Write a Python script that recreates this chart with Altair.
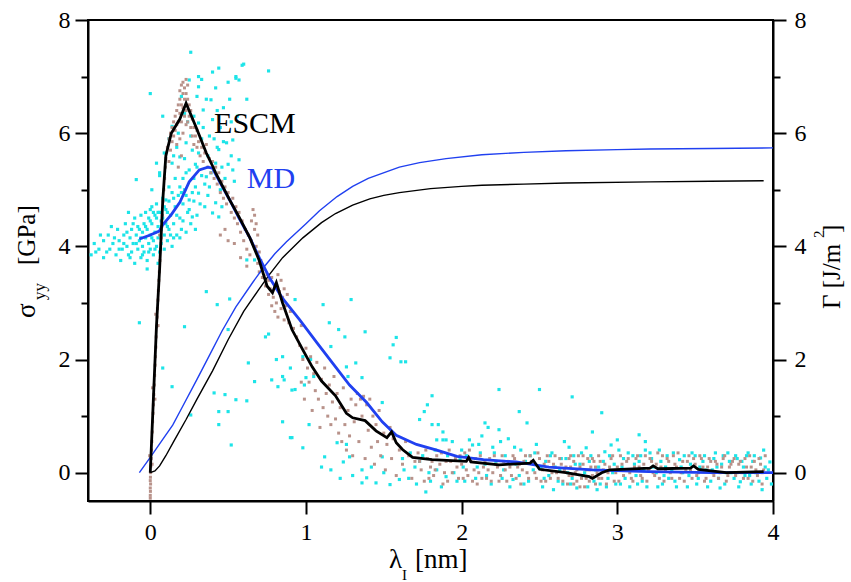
import altair as alt
import pandas as pd

# ---- smoothed stress curves sigma_yy(lambda_I) [GPa] ----
escm_lam = [0.0, 0.02, 0.04, 0.06, 0.08, 0.1, 0.135, 0.19, 0.23, 0.295, 0.36, 0.40, 0.42, 0.51,
            0.57, 0.64, 0.70, 0.75, 0.785, 0.81, 0.85, 0.91, 0.98, 1.04, 1.1, 1.19, 1.26, 1.3,
            1.38, 1.45, 1.52, 1.55, 1.58, 1.62, 1.685, 1.81, 2.03, 2.045, 2.06, 2.24, 2.44, 2.46,
            2.5, 2.67, 2.82, 2.84, 2.9, 2.95, 3.21, 3.23, 3.26, 3.47, 3.49, 3.52, 3.7, 3.94]
escm_sig = [0.0, 1.3, 2.6, 3.6, 4.8, 5.6, 6.0, 6.25, 6.53, 6.1, 5.65, 5.42, 5.3, 4.82,
            4.52, 4.15, 3.75, 3.3, 3.18, 3.36, 3.0, 2.53, 2.17, 1.87, 1.62, 1.36, 1.05, 0.97,
            0.92, 0.74, 0.62, 0.72, 0.53, 0.41, 0.27, 0.23, 0.2, 0.27, 0.19, 0.14, 0.17, 0.22,
            0.06, 0.0, -0.07, -0.1, 0.0, 0.05, 0.08, 0.12, 0.07, 0.08, 0.12, 0.06, 0.0, 0.02]

md_lam = [-0.07, 0.0, 0.058, 0.08, 0.135, 0.19, 0.25, 0.315, 0.37, 0.40, 0.45, 0.51, 0.57,
          0.64, 0.70, 0.765, 0.85, 0.96, 1.07, 1.17, 1.28, 1.39, 1.49, 1.58, 1.71, 1.84, 1.97,
          2.14, 2.35, 2.56, 2.84, 3.2, 3.6, 4.0]
md_sig = [4.13, 4.2, 4.27, 4.38, 4.56, 4.78, 5.14, 5.35, 5.4, 5.38, 5.12, 4.82, 4.5,
          4.15, 3.8, 3.45, 3.08, 2.7, 2.3, 1.94, 1.55, 1.24, 0.9, 0.66, 0.5, 0.4, 0.29,
          0.23, 0.19, 0.1, 0.05, 0.02, 0.0, 0.0]

# ---- work of separation Gamma(lambda_I) [J/m^2] ----
gam_md_lam = [-0.07, 0.0, 0.07, 0.144, 0.2, 0.3, 0.37, 0.46, 0.55, 0.66, 0.72, 0.8, 0.875,
              1.0, 1.087, 1.2, 1.3, 1.4, 1.52, 1.6, 1.73, 1.9, 2.13, 2.4, 2.67, 3.0, 3.21,
              3.6, 4.0]
gam_md = [0.0, 0.27, 0.55, 0.84, 1.13, 1.65, 2.02, 2.5, 2.93, 3.37, 3.6, 3.87, 4.08,
          4.4, 4.63, 4.88, 5.06, 5.2, 5.32, 5.4, 5.48, 5.55, 5.62, 5.66, 5.69, 5.71, 5.72,
          5.73, 5.74]

gam_escm_lam = [0.0, 0.03, 0.06, 0.1, 0.15, 0.23, 0.3, 0.4, 0.5, 0.6, 0.7, 0.765, 0.85,
                0.98, 1.1, 1.19, 1.3, 1.41, 1.5, 1.6, 1.8, 2.0, 2.13, 2.4, 2.67, 3.21, 3.6,
                3.94]
gam_escm = [0.0, 0.03, 0.12, 0.3, 0.55, 0.94, 1.3, 1.8, 2.35, 2.85, 3.25, 3.5, 3.8,
            4.15, 4.42, 4.58, 4.73, 4.84, 4.9, 4.95, 5.02, 5.06, 5.08, 5.1, 5.12, 5.14, 5.15,
            5.16]

# ---- raw MD samples (lambda_I, sigma_yy) ----
md_cloud_low = [
    (-0.38, 3.85), (-0.36, 4.05), (-0.33, 3.95), (-0.3, 4.1), (-0.3, 3.8), (-0.27, 4.2),
    (-0.26, 3.95), (-0.24, 4.05), (-0.22, 3.85), (-0.21, 4.3), (-0.2, 4.1), (-0.19, 3.75),
    (-0.18, 3.95), (-0.17, 4.2), (-0.16, 4.4), (-0.15, 4.0), (-0.14, 3.85), (-0.13, 4.15),
    (-0.12, 4.3), (-0.12, 3.9), (-0.11, 4.05), (-0.1, 4.5), (-0.1, 3.7), (-0.09, 4.2),
    (-0.08, 3.95), (-0.08, 4.35), (-0.07, 4.1), (-0.06, 3.8), (-0.06, 4.55), (-0.05, 4.25),
    (-0.05, 4.0), (-0.04, 4.4), (-0.04, 3.9), (-0.03, 4.15), (-0.03, 4.6), (-0.02, 3.75),
    (-0.02, 4.3), (-0.01, 4.05), (-0.01, 4.5), (0.0, 4.2), (0.0, 3.95), (0.01, 4.4),
    (0.01, 4.7), (0.02, 4.1), (0.02, 3.85), (0.03, 4.55), (0.03, 4.25), (0.04, 4.0),
    (0.04, 4.75), (0.05, 4.35), (0.05, 4.15), (0.06, 3.9), (0.06, 4.6), (0.07, 4.3),
    (0.07, 4.05), (0.08, 4.5), (0.08, 4.85), (0.09, 4.2), (0.09, 3.95), (0.1, 4.65),
    (0.1, 4.4), (0.11, 4.1), (0.12, 4.8), (0.12, 4.3), (0.13, 4.55), (0.14, 4.0),
    (0.14, 4.95), (0.15, 4.4), (0.16, 4.7), (0.17, 4.2), (0.18, 4.9), (0.19, 4.5),
    (0.2, 4.3), (0.21, 4.75), (0.22, 5.0), (0.24, 4.6), (0.26, 4.4), (0.28, 4.8),
    (0.3, 4.55), (-0.02, 3.6), (0.05, 3.7), (-0.09, 5.18), (0.06, 5.25), (-0.25, 4.35),
    (-0.14, 4.6), (0.0, 4.45), (0.04, 4.5), (0.11, 4.6), (0.15, 4.15), (0.23, 4.25),
    (-0.35, 3.9), (-0.32, 4.2), (-0.28, 3.9), (-0.23, 4.15), (-0.2, 3.95), (-0.17, 4.05),
    (-0.15, 4.25), (-0.13, 3.8), (-0.11, 4.4), (-0.09, 4.05), (-0.07, 4.3), (-0.05, 3.85),
    (-0.03, 4.35), (-0.01, 3.9), (0.01, 4.15), (0.03, 3.95), (0.05, 4.6), (0.07, 4.45),
    (0.09, 4.7), (0.11, 4.35), (0.13, 4.2), (0.15, 4.85), (0.17, 4.55), (0.19, 4.15),
    (0.21, 4.45), (0.23, 4.9), (0.25, 4.65), (0.27, 4.95), (0.29, 4.3), (0.02, 4.6),
    (-0.06, 4.15), (0.0, 4.65),
]
md_cloud_high = [
    (0.0, 6.7), (0.04, 5.47), (0.09, 5.65), (0.08, 6.3), (0.1, 4.82), (0.01, 5.0), (0.06, 5.3),
    (0.14, 6.12), (0.14, 5.47), (0.19, 5.58), (0.19, 5.05), (0.2, 6.65), (0.23, 5.83),
    (0.23, 5.3), (0.25, 6.94), (0.25, 4.82), (0.26, 7.43), (0.27, 4.52), (0.3, 6.65),
    (0.31, 7.0), (0.31, 6.82), (0.31, 6.18), (0.31, 5.65), (0.31, 4.94), (0.33, 5.9),
    (0.34, 6.41), (0.35, 5.1), (0.36, 5.23), (0.38, 5.05), (0.39, 6.59), (0.4, 7.08),
    (0.4, 6.24), (0.4, 4.59), (0.42, 6.8), (0.42, 5.47), (0.42, 4.77), (0.43, 5.75),
    (0.44, 7.15), (0.44, 5.71), (0.44, 4.52), (0.45, 6.1), (0.46, 4.7), (0.47, 6.45),
    (0.49, 5.83), (0.5, 6.9), (0.52, 5.6), (0.53, 5.88), (0.55, 6.97), (0.55, 7.0),
    (0.56, 6.3), (0.57, 6.94), (0.57, 5.53), (0.59, 7.2), (0.6, 7.22), (0.62, 6.6),
    (0.76, 7.1), (0.16, 5.2), (0.18, 6.0), (0.21, 5.2), (0.27, 5.7), (0.28, 6.3),
    (0.24, 6.2), (0.33, 6.95), (0.36, 6.6), (0.29, 5.05), (0.35, 4.7), (0.12, 5.9),
    (0.17, 5.75), (0.22, 6.35), (0.38, 5.95), (0.48, 5.2), (0.51, 6.6), (0.12, 5.05),
    (0.2, 4.95), (0.32, 4.75), (0.26, 5.95), (0.53, 5.35), (0.46, 5.4),
    (0.15, 5.6), (0.22, 5.55), (0.25, 5.35), (0.28, 5.2), (0.3, 5.4), (0.33, 5.25),
    (0.34, 6.1), (0.37, 5.6), (0.39, 5.3), (0.41, 5.9), (0.43, 6.4), (0.45, 5.0),
    (0.47, 5.85), (0.5, 5.45), (0.52, 6.2), (0.54, 5.15), (0.37, 4.9), (0.29, 5.45),
]
md_sparse = [
    (-0.07, 2.65), (0.08, 1.85), (0.14, 1.52), (0.22, 2.58), (0.26, 1.02), (0.36, 3.2),
    (0.41, 1.41), (0.43, 2.97), (0.44, 1.08), (0.44, 0.85), (0.48, 1.38), (0.5, 2.53),
    (0.5, 1.08), (0.52, 0.49), (0.55, 1.29), (0.51, 3.07), (0.63, 1.94), (0.62, 1.27),
    (0.67, 1.61), (0.74, 2.4), (0.76, 2.45), (0.81, 2.0), (0.78, 1.64), (0.82, 1.52),
    (0.85, 0.9), (0.86, 1.64), (0.9, 0.62), (0.91, 1.46), (0.85, 1.7), (0.67, 3.76),
    (0.62, 3.76), (0.93, 3.06), (1.11, 2.97), (1.29, 3.06), (1.15, 2.65), (1.21, 2.53),
    (1.38, 2.49), (1.25, 2.4), (1.16, 2.23), (1.58, 2.39), (1.56, 2.26), (1.54, 2.03),
    (1.61, 1.96), (1.64, 1.96), (1.32, 1.94), (1.26, 1.87), (1.36, 1.68), (1.27, 1.7),
    (0.98, 2.05), (1.03, 2.0), (0.85, 2.05), (0.9, 1.85), (1.0, 1.68), (1.05, 1.7),
    (0.99, 1.55), (0.93, 1.47), (1.02, 0.85), (0.91, 0.62), (1.49, 1.24), (1.81, 1.36),
    (1.78, 1.2), (1.76, 1.08), (1.73, 0.94), (1.81, 0.85), (1.85, 0.85), (1.88, 0.72),
    (1.9, 0.58), (1.84, 0.58), (1.2, 0.53), (1.26, 0.5), (0.98, 0.44), (1.12, 0.28),
    (2.24, 1.47), (2.37, 1.08), (2.42, 0.88), (2.5, 1.47), (2.71, 1.34), (2.9, 1.06),
    (2.15, 0.88), (2.17, 0.8), (2.24, 0.76), (2.84, 0.72), (3.14, 0.67), (3.18, 0.55),
    (2.66, 0.55),
]
md_tail = [
    (1.1, 0.1), (1.16, 0.05), (1.22, -0.1), (1.24, 0.19), (1.28, 0.28), (1.3, -0.05),
    (1.36, 0.05), (1.36, -0.18), (1.39, -0.09), (1.42, 0.1), (1.45, -0.18), (1.49, 0.28),
    (1.5, 0.0), (1.54, -0.21), (1.6, -0.12), (1.62, 0.25), (1.66, -0.1), (1.7, 0.1),
    (1.75, 0.3), (1.77, -0.34), (1.8, -0.15), (1.84, 0.05), (1.88, 0.58), (1.9, -0.07),
    (1.94, 0.55), (1.95, 0.0), (1.99, 0.23), (2.0, 0.4), (2.02, -0.15), (2.05, 0.58),
    (2.07, 0.49), (2.1, 0.1), (2.12, 0.35), (2.16, -0.05), (2.2, 0.45), (2.22, 0.2),
    (2.26, -0.1), (2.28, 0.3), (2.3, 0.6), (2.33, -0.12), (2.35, 0.15), (2.38, 0.4),
    (2.4, -0.2), (2.44, 0.3), (2.46, 0.05), (2.48, 0.5), (2.52, -0.25), (2.54, 0.2),
    (2.56, -0.05), (2.58, 0.35), (2.6, 0.1), (2.62, -0.15), (2.64, 0.25), (2.68, 0.0),
    (2.7, -0.2), (2.72, 0.3), (2.74, -0.27), (2.76, 0.15), (2.78, -0.05), (2.8, 0.44),
    (2.82, 0.2), (2.85, -0.15), (2.87, -0.3), (2.88, 0.1), (2.92, 0.37), (2.94, -0.1),
    (2.96, 0.49), (2.98, 0.15), (3.0, 0.58), (3.02, -0.2), (3.04, 0.25), (3.06, 0.05),
    (3.08, -0.25), (3.1, 0.3), (3.12, -0.05), (3.14, 0.2), (3.16, -0.15), (3.18, 0.4),
    (3.21, 0.35), (3.23, 0.1), (3.26, -0.25), (3.28, 0.2), (3.3, -0.05), (3.32, 0.3),
    (3.35, 0.05), (3.37, -0.15), (3.4, 0.23), (3.42, 0.0), (3.45, -0.25), (3.47, 0.15),
    (3.5, 0.3), (3.52, -0.1), (3.55, 0.2), (3.57, 0.05), (3.6, -0.15), (3.62, 0.25),
    (3.64, 0.1), (3.66, -0.27), (3.68, 0.3), (3.7, 0.0), (3.72, 0.2), (3.75, -0.1),
    (3.77, 0.25), (3.79, -0.16), (3.81, 0.1), (3.83, 0.3), (3.85, -0.05), (3.87, 0.2),
    (3.89, 0.0), (3.92, 0.26), (3.93, -0.3), (3.95, 0.1), (3.98, 0.19), (3.96, -0.1),
    (1.63, 0.05), (1.67, 0.35), (1.71, -0.2), (1.73, 0.2), (1.79, 0.0), (1.83, 0.4),
    (1.87, -0.25), (1.91, 0.3), (1.97, -0.15), (2.01, 0.1), (2.03, 0.3), (2.09, -0.1),
    (2.11, 0.5), (2.13, 0.65), (2.15, 0.15), (2.19, -0.2), (2.21, 0.35), (2.25, 0.55),
    (2.27, 0.05), (2.31, -0.25), (2.34, 0.45), (2.37, -0.05), (2.41, 0.2), (2.43, -0.15),
    (2.47, 0.35), (2.51, 0.1), (2.53, -0.1), (2.57, 0.3), (2.59, -0.3), (2.63, 0.05),
    (2.65, -0.2), (2.67, 0.25), (2.69, 0.45), (2.71, -0.1), (2.73, 0.15), (2.77, 0.35),
    (2.79, 0.0), (2.81, -0.25), (2.83, 0.3), (2.86, 0.05), (2.89, -0.2), (2.91, 0.2),
    (2.93, -0.25), (2.95, 0.3), (2.97, 0.0), (2.99, -0.2), (3.01, 0.4), (3.03, 0.1),
    (3.05, -0.1), (3.07, 0.35), (3.11, 0.15), (3.13, -0.2), (3.15, 0.3), (3.17, 0.05),
    (3.19, -0.25), (3.22, 0.25), (3.25, 0.0), (3.27, 0.4), (3.29, -0.2), (3.31, 0.1),
    (3.33, -0.1), (3.36, 0.35), (3.38, -0.25), (3.41, 0.1), (3.43, 0.3), (3.46, -0.05),
    (3.48, 0.35), (3.51, -0.2), (3.53, 0.1), (3.56, 0.3), (3.58, -0.25), (3.61, 0.05),
    (3.63, 0.35), (3.65, -0.1), (3.67, 0.15), (3.69, -0.2), (3.71, 0.35), (3.73, 0.0),
    (3.76, 0.3), (3.78, -0.25), (3.8, 0.2), (3.82, -0.05), (3.84, 0.35), (3.86, -0.2),
    (3.88, 0.3), (3.91, -0.15), (3.94, 0.4), (3.97, 0.05), (3.99, -0.2),
]

# ---- raw ESCM samples (lambda_I, sigma_yy) ----
escm_rise = [
    (0.0, -0.45), (0.0, -0.4), (0.001, -0.33), (0.0, -0.27), (0.002, -0.2), (0.0, -0.14),
    (0.001, -0.08), (0.002, 0.0), (0.004, 0.12), (0.006, 0.25), (0.008, 0.4), (0.01, 0.55),
    (0.013, 0.72), (0.015, 0.9), (0.018, 1.05), (0.02, 1.2), (0.023, 1.38), (0.026, 1.55),
    (0.028, 1.72), (0.031, 1.9), (0.033, 2.05), (0.036, 2.22), (0.038, 2.4), (0.041, 2.58),
    (0.044, 2.75), (0.046, 2.9), (0.049, 3.05), (0.052, 3.22), (0.055, 3.4), (0.058, 3.55),
    (0.062, 3.75), (0.066, 3.95), (0.07, 4.15), (0.074, 4.35), (0.078, 4.55), (0.082, 4.8),
    (0.087, 5.0), (0.092, 5.2), (0.097, 5.4), (-0.004, 0.3), (0.012, 0.15), (0.03, 1.3),
    (0.05, 2.6), (0.015, 1.5), (0.035, 2.8), (0.06, 4.2),
]
escm_peak = [
    (0.1, 5.55), (0.11, 5.75), (0.12, 5.9), (0.12, 5.5), (0.13, 6.0), (0.13, 5.7), (0.14, 6.1),
    (0.14, 5.85), (0.15, 6.2), (0.15, 5.95), (0.16, 6.3), (0.16, 6.05), (0.17, 6.4),
    (0.17, 6.15), (0.18, 6.5), (0.18, 6.2), (0.19, 6.6), (0.19, 6.35), (0.19, 6.75),
    (0.2, 6.5), (0.2, 6.85), (0.2, 6.2), (0.21, 6.7), (0.21, 6.45), (0.21, 6.9), (0.22, 6.6),
    (0.22, 6.8), (0.22, 6.3), (0.23, 6.95), (0.23, 6.7), (0.23, 6.4), (0.24, 6.6),
    (0.24, 6.85), (0.24, 6.2), (0.25, 6.5), (0.25, 6.3), (0.26, 6.4), (0.26, 6.1),
    (0.27, 6.25), (0.27, 5.95), (0.28, 6.1), (0.28, 5.8), (0.29, 5.95), (0.3, 5.75),
    (0.3, 6.05), (0.31, 5.85), (0.32, 5.6), (0.17, 5.8), (0.19, 5.9), (0.21, 6.0),
    (0.23, 6.15), (0.2, 5.6), (0.18, 5.4),
]
escm_drop = [
    (0.33, 5.75), (0.34, 5.5), (0.35, 5.65), (0.36, 5.8), (0.37, 5.4), (0.38, 5.55),
    (0.39, 5.3), (0.4, 5.5), (0.41, 5.2), (0.42, 5.4), (0.43, 5.1), (0.44, 5.3), (0.45, 4.95),
    (0.46, 5.15), (0.47, 4.85), (0.48, 5.05), (0.45, 4.2), (0.48, 4.3), (0.5, 4.1),
    (0.49, 4.75), (0.5, 4.95), (0.52, 4.6), (0.53, 4.85), (0.54, 4.5), (0.55, 4.7),
    (0.56, 4.4), (0.57, 4.6), (0.58, 4.25), (0.59, 4.45), (0.6, 4.1), (0.61, 4.3),
    (0.62, 3.95), (0.63, 4.2), (0.64, 3.85), (0.65, 4.1), (0.65, 4.45), (0.66, 4.65),
    (0.67, 4.3), (0.67, 4.55), (0.68, 4.0), (0.68, 4.4), (0.69, 3.7), (0.69, 4.2), (0.7, 3.9),
    (0.7, 3.55), (0.71, 3.75), (0.72, 3.45), (0.73, 3.6), (0.74, 3.3), (0.75, 3.5),
    (0.76, 3.15), (0.76, 3.4), (0.77, 3.25), (0.78, 2.95), (0.78, 3.45), (0.79, 3.1),
    (0.8, 3.3), (0.8, 2.85), (0.81, 3.0), (0.82, 3.5), (0.82, 2.75), (0.83, 3.2), (0.84, 2.9),
    (0.84, 3.4), (0.85, 3.1), (0.86, 2.7), (0.86, 3.25), (0.87, 2.95), (0.88, 3.15),
    (0.89, 2.65), (0.9, 2.85), (0.92, 2.55), (0.94, 2.4), (0.62, 3.65), (0.58, 3.8),
    (0.54, 4.05),
]
escm_knee = [
    (0.96, 2.25), (0.97, 2.6), (0.98, 2.0), (1.0, 2.2), (1.01, 1.85), (1.02, 1.6), (1.03, 2.05),
    (1.05, 1.75), (1.06, 1.45), (1.07, 1.95), (1.08, 1.3), (1.1, 1.65), (1.11, 1.15),
    (1.12, 1.85), (1.13, 1.4), (1.14, 1.0), (1.15, 1.55), (1.16, 0.85), (1.17, 1.25),
    (1.18, 1.7), (1.19, 0.95), (1.2, 1.4), (1.21, 0.7), (1.22, 1.15), (1.23, 0.55),
    (1.24, 1.5), (1.25, 0.85), (1.26, 0.4), (1.27, 1.1), (1.28, 0.65), (1.29, 1.3), (1.3, 0.3),
    (1.31, 0.9), (1.32, 1.2), (1.33, 1.4), (1.34, 0.55), (1.35, 1.3), (1.36, 1.0),
    (1.37, 1.35), (1.38, 0.25), (1.39, 1.2), (1.4, 0.75), (1.41, 1.3), (1.42, 0.45),
    (1.43, 1.0), (1.44, 0.15), (1.45, 0.85), (1.46, 0.55), (1.47, 1.1), (1.48, 0.3),
    (1.5, 0.7), (1.51, 0.05), (1.52, 0.5), (1.54, 0.8), (1.55, 0.25), (1.56, 0.6),
    (1.58, -0.05), (1.6, 0.4), (1.62, 0.15), (1.64, 0.55), (1.66, 0.3), (1.68, -0.1),
    (1.7, 0.2), (0.99, 1.3), (1.04, 1.1), (1.09, 0.8), (0.97, 1.6),
]
escm_tail = [
    (1.72, 0.35), (1.74, 0.05), (1.76, -0.15), (1.78, 0.25), (1.8, 0.1), (1.82, -0.05),
    (1.84, 0.3), (1.86, 0.15), (1.88, -0.2), (1.9, 0.2), (1.92, 0.4), (1.94, 0.0),
    (1.96, 0.25), (1.98, -0.1), (2.0, 0.15), (2.02, 0.35), (2.04, -0.05), (2.06, 0.2),
    (2.08, 0.05), (2.1, -0.2), (2.12, 0.3), (2.14, 0.1), (2.16, -0.1), (2.18, 0.25),
    (2.2, 0.0), (2.22, 0.15), (2.24, -0.15), (2.26, 0.3), (2.28, 0.05), (2.3, 0.2),
    (2.32, -0.05), (2.34, 0.25), (2.36, 0.1), (2.38, -0.2), (2.4, 0.2), (2.42, 0.0),
    (2.44, 0.3), (2.46, 0.15), (2.48, -0.1), (2.5, 0.25), (2.52, 0.05), (2.54, -0.15),
    (2.56, 0.2), (2.58, 0.0), (2.6, 0.3), (2.62, -0.1), (2.64, 0.15), (2.66, 0.05),
    (2.68, -0.2), (2.69, 0.25), (2.7, 0.1), (2.71, -0.05), (2.72, 0.2), (2.73, 0.0),
    (2.74, -0.15), (2.75, 0.3), (2.76, 0.1), (2.77, -0.1), (2.78, 0.15), (2.79, -0.25),
    (2.8, 0.05), (2.81, 0.25), (2.82, -0.15), (2.83, 0.1), (2.84, -0.05), (2.85, 0.2),
    (2.86, -0.2), (2.87, 0.0), (2.88, 0.3), (2.9, -0.1), (2.92, 0.15), (2.94, 0.0),
    (2.96, 0.25), (2.98, -0.15), (3.0, 0.1), (3.02, 0.3), (3.04, -0.05), (3.06, 0.2),
    (3.08, 0.0), (3.1, -0.15), (3.12, 0.25), (3.14, 0.1), (3.16, -0.1), (3.18, 0.3),
    (3.2, 0.05), (3.22, 0.2), (3.24, -0.05), (3.26, 0.35), (3.28, 0.1), (3.3, -0.15),
    (3.32, 0.25), (3.34, 0.0), (3.36, 0.3), (3.38, 0.1), (3.4, -0.1), (3.42, 0.2),
    (3.44, 0.05), (3.46, 0.3), (3.48, -0.1), (3.5, 0.15), (3.52, 0.0), (3.54, 0.25),
    (3.56, -0.15), (3.58, 0.1), (3.6, 0.2), (3.62, -0.05), (3.64, 0.15), (3.66, 0.0),
    (3.68, 0.25), (3.7, -0.15), (3.72, 0.1), (3.74, 0.2), (3.76, -0.05), (3.78, 0.15),
    (3.8, 0.0), (3.82, 0.25), (3.84, -0.1), (3.86, 0.1), (3.88, 0.2), (3.9, -0.05),
    (3.92, 0.15), (3.94, 0.05), (3.95, 0.3), (3.93, -0.2),
    (1.73, 0.2), (1.77, 0.4), (1.79, -0.1), (1.81, 0.2), (1.83, 0.05), (1.87, 0.35),
    (1.89, 0.0), (1.91, -0.15), (1.93, 0.2), (1.97, 0.1), (1.99, 0.3), (2.01, -0.1),
    (2.03, 0.05), (2.05, 0.4), (2.07, -0.15), (2.09, 0.25), (2.11, 0.0), (2.13, -0.1),
    (2.15, 0.2), (2.17, 0.05), (2.19, -0.15), (2.21, 0.3), (2.23, 0.1), (2.25, -0.05),
    (2.27, 0.2), (2.29, -0.15), (2.31, 0.1), (2.33, 0.3), (2.35, -0.1), (2.37, 0.15),
    (2.39, 0.05), (2.41, 0.3), (2.43, -0.1), (2.45, 0.2), (2.47, 0.0), (2.49, 0.35),
    (2.51, -0.15), (2.53, 0.15), (2.55, 0.3), (2.57, -0.1), (2.59, 0.15), (2.61, 0.0),
    (2.63, 0.25), (2.65, -0.15), (2.67, 0.1), (2.69, -0.05), (2.7, 0.3), (2.72, -0.2),
    (2.74, 0.05), (2.76, -0.25), (2.78, 0.3), (2.8, -0.1), (2.82, 0.05), (2.84, 0.25),
    (2.86, 0.1), (2.88, -0.1), (2.89, 0.2), (2.91, 0.05), (2.93, -0.2), (2.95, 0.1),
    (2.97, 0.3), (2.99, 0.0), (3.01, -0.15), (3.03, 0.15), (3.05, 0.05), (3.07, 0.25),
    (3.09, -0.1), (3.11, 0.1), (3.13, 0.3), (3.15, -0.05), (3.17, 0.15), (3.19, -0.15),
    (3.21, 0.25), (3.23, 0.0), (3.25, 0.15), (3.27, -0.1), (3.29, 0.3), (3.31, 0.05),
    (3.33, 0.2), (3.35, -0.1), (3.37, 0.15), (3.39, 0.35), (3.41, 0.0), (3.43, -0.15),
    (3.45, 0.2), (3.47, 0.05), (3.49, 0.25), (3.51, -0.05), (3.53, 0.3), (3.55, 0.1),
    (3.57, -0.1), (3.59, 0.25), (3.61, 0.0), (3.63, 0.2), (3.65, -0.1), (3.67, 0.1),
    (3.69, 0.3), (3.71, -0.05), (3.73, 0.15), (3.75, 0.25), (3.77, 0.0), (3.79, 0.2),
    (3.81, -0.1), (3.83, 0.1), (3.85, 0.3), (3.87, -0.15), (3.89, 0.05), (3.91, 0.25),
    (3.93, 0.0),
]

CYAN = "#1de4e8"
ROSY = "#b8928a"
BLUE = "#2040f0"
SERIF = "Liberation Serif, Times New Roman, serif"

md_pts = pd.DataFrame(md_cloud_low + md_cloud_high + md_sparse + md_tail, columns=["lam", "sig"])
escm_pts = pd.DataFrame(escm_rise + escm_peak + escm_drop + escm_knee + escm_tail,
                        columns=["lam", "sig"])
escm_df = pd.DataFrame({"lam": escm_lam, "sig": escm_sig})
md_df = pd.DataFrame({"lam": md_lam, "sig": md_sig})
gmd_df = pd.DataFrame({"lam": gam_md_lam, "gam": gam_md})
gescm_df = pd.DataFrame({"lam": gam_escm_lam, "gam": gam_escm})

YDOM = [-0.5, 8]
x_enc = alt.X(
    "lam:Q",
    scale=alt.Scale(domain=[-0.4, 4], nice=False, zero=False),
    axis=alt.Axis(
        values=[0, 0.5, 1, 1.5, 2, 2.5, 3, 3.5, 4], format="d", title=None,
        labelExpr="datum.value % 1 === 0 ? datum.label : ''",
        tickSize={"condition": {"test": "datum.value % 1 === 0", "value": 13}, "value": 7},
        labelPadding=6, labelFlush=False, labelFont=SERIF, labelFontSize=24,
    ),
)


def y_enc(field, axis=None):
    return alt.Y(f"{field}:Q", scale=alt.Scale(domain=YDOM, nice=False, zero=False), axis=axis)


even_labels = "datum.value % 2 === 0 ? datum.label : ''"
even_ticks = {"condition": {"test": "datum.value % 2 === 0", "value": 13}, "value": 7}
left_axis = alt.Axis(orient="left", values=list(range(9)), title=None, labelExpr=even_labels,
                     tickSize=even_ticks, labelPadding=5, labelFlush=False,
                     labelFont=SERIF, labelFontSize=24)
right_axis = alt.Axis(orient="right", values=list(range(9)), title=None, labelExpr=even_labels,
                      tickSize=even_ticks, labelPadding=8, labelFlush=False,
                      labelFont=SERIF, labelFontSize=24)

md_scatter = alt.Chart(md_pts).mark_square(size=10, color=CYAN, opacity=1).encode(
    x=x_enc, y=y_enc("sig", left_axis))
escm_scatter = alt.Chart(escm_pts).mark_square(size=9, color=ROSY, opacity=1).encode(
    x=x_enc, y=y_enc("sig"))
gam_md_line = alt.Chart(gmd_df).mark_line(color=BLUE, strokeWidth=1.4).encode(
    x=x_enc, y=y_enc("gam", right_axis), order="lam:Q")
gam_escm_line = alt.Chart(gescm_df).mark_line(color="black", strokeWidth=1.4).encode(
    x=x_enc, y=y_enc("gam"), order="lam:Q")
md_line = alt.Chart(md_df).mark_line(color=BLUE, strokeWidth=2.8).encode(
    x=x_enc, y=y_enc("sig"), order="lam:Q")
escm_line = alt.Chart(escm_df).mark_line(color="black", strokeWidth=2.8).encode(
    x=x_enc, y=y_enc("sig"), order="lam:Q")

# curve labels, placed in data coordinates
lab_df = pd.DataFrame({"lam": [0.41, 0.62], "sig": [6.0, 5.03], "txt": ["ESCM", "MD"],
                       "col": ["black", BLUE]})
curve_labels = alt.Chart(lab_df).mark_text(
    font=SERIF, fontSize=30, align="left", baseline="alphabetic").encode(
    x=x_enc, y=y_enc("sig"), text="txt:N", color=alt.Color("col:N", scale=None))

one = pd.DataFrame({"k": [0]})


def title_part(text, x, y, size, angle=0, color="black"):
    kw = dict(text=text, font=SERIF, fontSize=size, align="left", baseline="alphabetic",
              color=color)
    if angle:
        kw["angle"] = angle
    return alt.Chart(one).mark_text(**kw).encode(x=alt.value(x), y=alt.value(y))


# axis titles (positions relative to the plot area's top-left corner)
OX, OY = 88, 20
titles = [
    title_part("σ", 35 - OX, 318 - OY, 27, 270),
    title_part("yy", 45 - OX, 300 - OY, 17, 270),
    title_part("[GPa]", 35 - OX, 265 - OY, 25, 270),
    title_part("Γ [J/m", 840 - OX, 309 - OY, 25, 270),
    title_part("2", 824 - OX, 238 - OY, 15, 270),
    title_part("]", 840 - OX, 233 - OY, 25, 270),
    title_part("λ", 389 - OX, 568 - OY, 27),
    title_part("I", 402 - OX, 580 - OY, 15),
    title_part("[nm]", 415 - OX, 568 - OY, 27),
]

chart = alt.layer(
    md_scatter, escm_scatter, gam_md_line, gam_escm_line, md_line, escm_line, curve_labels,
    *titles,
).resolve_scale(y="independent").properties(
    width=685, height=481,
    autosize=alt.AutoSizeParams(type="none"),
    padding={"left": 88, "top": 20, "right": 78, "bottom": 81},
    background="white",
).configure_view(stroke="black", strokeWidth=2).configure_axis(
    labelFont=SERIF, labelFontSize=24, labelColor="black", tickColor="black",
    domainColor="black", tickWidth=2, domainWidth=2, grid=False,
)

chart.save("out.html", embed_options={"renderer": "svg", "actions": False})
